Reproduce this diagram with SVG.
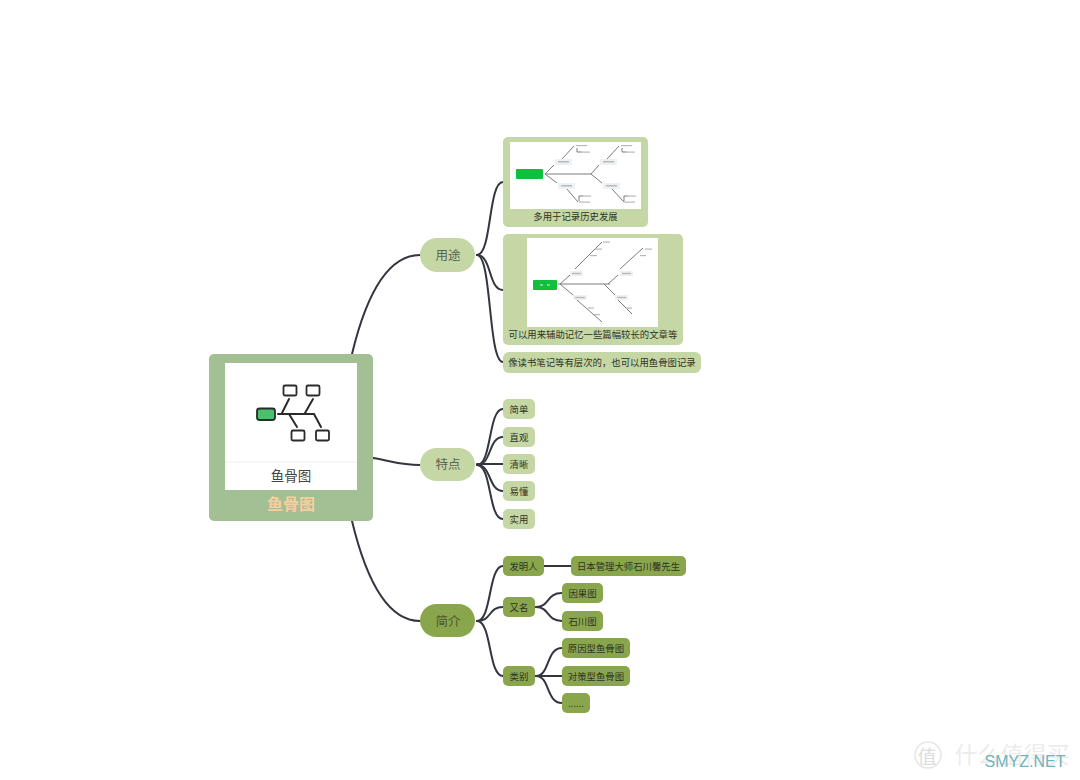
<svg xmlns="http://www.w3.org/2000/svg" width="1080" height="780" viewBox="0 0 1080 780">
<style>
text{font-family:"Noto Sans CJK SC","Liberation Sans",sans-serif;text-anchor:middle;dominant-baseline:central}
.c{fill:none;stroke:#33363f;stroke-width:2;stroke-linecap:round}
.l{fill:#c6d7a6}.d{fill:#8aa64d}
.t{font-size:9.400px;fill:#2f3324}
.m{font-size:12.500px}
.ic{fill:#fff;stroke:#2b2b2b;stroke-width:1.800}
.b{fill:none;stroke:#2b2b2b;stroke-width:2;stroke-linecap:round}
.g{fill:none;stroke:#7d7d7d;stroke-width:1}
.p{fill:#eef1f4}
.s{fill:#b9b9b9}
.gr{fill:#12bf3c}
</style>
<rect width="1080" height="780" fill="#fff"/>
<g id="connectors">
<path class="c" d="M352 354C365 300 385 255 420 255"/>
<path class="c" d="M373 458C392 461 400 465 420 465"/>
<path class="c" d="M352 521C365 575 385 621 420 621"/>
<path class="c" d="M477 255C492 255 488 182 503 182"/>
<path class="c" d="M477 255C492 255 488 290 503 290"/>
<path class="c" d="M477 255C492 255 488 362 503 362"/>
<path class="c" d="M477 465C492 465 488 409 503 409"/>
<path class="c" d="M477 465C492 465 488 437 503 437"/>
<path class="c" d="M477 464L503 464"/>
<path class="c" d="M477 465C492 465 488 491 503 491"/>
<path class="c" d="M477 465C492 465 488 519 503 519"/>
<path class="c" d="M477 621C492 621 488 566 503 566"/>
<path class="c" d="M477 621C492 621 488 607 503 607"/>
<path class="c" d="M477 621C492 621 488 676 503 676"/>
<path class="c" d="M544 566L571 566"/>
<path class="c" d="M536 607C550 607 546 593 562 593"/>
<path class="c" d="M536 607C550 607 546 621 562 621"/>
<path class="c" d="M536 676C550 676 546 648 562 648"/>
<path class="c" d="M536 676L562 676"/>
<path class="c" d="M536 676C550 676 546 703 562 703"/>
</g>
<g id="root">
<rect x="209" y="354" width="164" height="167" rx="5" fill="#a3bf94"/>
<rect x="225" y="363" width="132" height="127" fill="#fff"/>
<path d="M225 462H357" stroke="#eee" stroke-width="1"/>
<rect x="257" y="408.500" width="18" height="11.500" rx="2.500" fill="#4bc06a" stroke="#2b2b2b" stroke-width="1.800"/>
<rect class="ic" x="283.500" y="385.500" width="13" height="10" rx="1.500"/>
<rect class="ic" x="306.500" y="385.500" width="13" height="10" rx="1.500"/>
<rect class="ic" x="291.500" y="430.500" width="13" height="10" rx="1.500"/>
<rect class="ic" x="316" y="430.500" width="13" height="10" rx="1.500"/>
<path class="b" d="M278 414H314L321 427M282 413L289 399M305 413L313 399M289 414L297 427"/>
<text x="291" y="474.500" style="font-size:13.500px" fill="#444">鱼骨图</text>
<text x="291" y="503" style="font-size:16px;font-weight:700" fill="#f5cf9f">鱼骨图</text>
</g>
<g id="yongtu"><rect class="l" x="420" y="238" width="55" height="34" rx="17"/><text class="m" x="448" y="254.500" fill="#5a6350">用途</text></g>
<g id="tedian"><rect class="l" x="420" y="448" width="55" height="33" rx="16.500"/><text class="m" x="448" y="463.500" fill="#5a6350">特点</text></g>
<g id="jianjie"><rect class="d" x="420" y="604" width="55" height="33" rx="16.500"/><text class="m" x="448" y="620" fill="#4a5530">简介</text></g>
<g id="card1">
<rect class="l" x="503" y="137" width="145" height="90" rx="5"/>
<rect x="510" y="142" width="131" height="67" fill="#fff"/>
<path class="g" d="M545 174H591M545 174L554 165M545 174L557 183M591 174L599 165M591 174L602 183M562 159L574 146M607 159L619 146M567 189L578 202M612 189L624 202M577 148V152H582M622 148V152H627M579 201V196H583M624 201V196H628"/>
<rect class="gr" x="516" y="169" width="27" height="10" rx="1"/>
<rect class="p" x="555" y="159" width="17" height="6"/><rect class="p" x="600" y="159" width="17" height="6"/><rect class="p" x="558" y="183" width="17" height="6"/><rect class="p" x="603" y="183" width="17" height="6"/>
<rect class="s" x="558" y="161" width="11" height="1.500"/><rect class="s" x="603" y="161" width="11" height="1.500"/><rect class="s" x="561" y="185" width="11" height="1.500"/><rect class="s" x="606" y="185" width="11" height="1.500"/>
<rect class="s" x="576" y="145" width="11" height="1.200"/><rect class="s" x="621" y="145" width="11" height="1.200"/><rect class="s" x="582" y="151.500" width="8" height="1.200"/><rect class="s" x="627" y="151.500" width="8" height="1.200"/>
<rect class="s" x="579" y="201.500" width="11" height="1.200"/><rect class="s" x="624" y="201.500" width="11" height="1.200"/><rect class="s" x="583" y="195.500" width="8" height="1.200"/><rect class="s" x="628" y="195.500" width="8" height="1.200"/>
<text class="t" x="575.500" y="216">多用于记录历史发展</text>
</g>
<g id="card2">
<rect class="l" x="503" y="234" width="180" height="111" rx="5"/>
<rect x="527" y="238" width="131" height="89" fill="#fff"/>
<path class="g" d="M558 284H610M560 284L570 275M560 284L573 295M608 284L618 275M604 284L615 295M575 269L602 242M620 269L643 248M577 300L602 322M618 300L632 314"/>
<rect class="gr" x="533" y="280" width="24" height="10" rx="1"/>
<rect x="540" y="284.500" width="3" height="1" fill="#d8f5df"/><rect x="547" y="284.500" width="3" height="1" fill="#d8f5df"/>
<rect class="p" x="570" y="271" width="13" height="5"/><rect class="p" x="620" y="271" width="13" height="5"/><rect class="p" x="573" y="295" width="14" height="5"/><rect class="p" x="615" y="295" width="13" height="5"/>
<rect class="s" x="572" y="272.800" width="9" height="1.400"/><rect class="s" x="622" y="272.800" width="9" height="1.400"/><rect class="s" x="575" y="296.800" width="10" height="1.400"/><rect class="s" x="617" y="296.800" width="9" height="1.400"/>
<rect class="s" x="603" y="241.500" width="7" height="1.200"/><rect class="s" x="595" y="248.500" width="7" height="1.200"/><rect class="s" x="590" y="255" width="7" height="1.200"/><rect class="s" x="645" y="248.500" width="7" height="1.200"/><rect class="s" x="640" y="255" width="6" height="1.200"/>
<rect class="s" x="588" y="307.500" width="6" height="1.200"/><rect class="s" x="594" y="314" width="6" height="1.200"/><rect class="s" x="626" y="307.500" width="6" height="1.200"/>
<text class="t" x="593" y="333.500">可以用来辅助记忆一些篇幅较长的文章等</text>
</g>
<g id="card3"><rect class="l" x="503" y="352" width="198" height="21" rx="6"/><text class="t" x="602" y="361.500">像读书笔记等有层次的，也可以用鱼骨图记录</text></g>
<g id="t1"><rect class="l" x="503" y="399" width="32" height="20" rx="5"/><text class="t" x="519" y="408.500">简单</text></g>
<g id="t2"><rect class="l" x="503" y="427" width="32" height="20" rx="5"/><text class="t" x="519" y="436.500">直观</text></g>
<g id="t3"><rect class="l" x="503" y="454" width="32" height="20" rx="5"/><text class="t" x="519" y="463.500">清晰</text></g>
<g id="t4"><rect class="l" x="503" y="481" width="32" height="20" rx="5"/><text class="t" x="519" y="490.500">易懂</text></g>
<g id="t5"><rect class="l" x="503" y="509" width="32" height="20" rx="5"/><text class="t" x="519" y="518.500">实用</text></g>
<g id="j1"><rect class="d" x="503" y="556" width="41" height="20" rx="5"/><text class="t" x="523.500" y="565.500">发明人</text></g>
<g id="j1a"><rect class="d" x="571" y="556" width="115" height="20" rx="5"/><text class="t" x="628.500" y="565.500">日本管理大师石川馨先生</text></g>
<g id="j2"><rect class="d" x="503" y="597" width="32" height="20" rx="5"/><text class="t" x="519" y="606.500">又名</text></g>
<g id="j2a"><rect class="d" x="562" y="583" width="41" height="20" rx="5"/><text class="t" x="582.500" y="592.500">因果图</text></g>
<g id="j2b"><rect class="d" x="562" y="611" width="41" height="20" rx="5"/><text class="t" x="582.500" y="620.500">石川图</text></g>
<g id="j3"><rect class="d" x="503" y="666" width="32" height="20" rx="5"/><text class="t" x="519" y="675.500">类别</text></g>
<g id="j3a"><rect class="d" x="562" y="638" width="68" height="20" rx="5"/><text class="t" x="596" y="647.500">原因型鱼骨图</text></g>
<g id="j3b"><rect class="d" x="562" y="666" width="68" height="20" rx="5"/><text class="t" x="596" y="675.500">对策型鱼骨图</text></g>
<g id="j3c"><rect class="d" x="562" y="693" width="28" height="20" rx="5"/><text class="t" x="576" y="702.500">......</text></g>
<g id="watermark">
<circle cx="928" cy="755" r="13" fill="none" stroke="#e6e6e6" stroke-width="1.500"/>
<text x="927" y="755" style="font-size:19px" fill="#dcdcdc">值</text>
<text x="1012" y="753" style="font-size:23px" fill="#ececec">什么值得买</text>
<text x="1025" y="761" style="font-size:16px;font-family:'Liberation Sans',sans-serif" fill="#6fb3bd">SMYZ.NET</text>
</g>
</svg>
